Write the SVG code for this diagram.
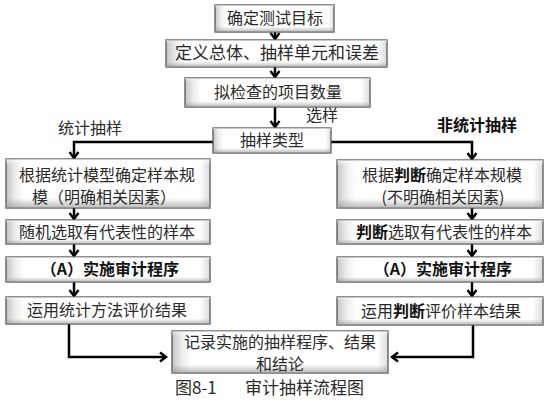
<svg xmlns="http://www.w3.org/2000/svg" width="554" height="402" viewBox="0 0 554 402">
<defs>
<linearGradient id="gh" x1="0" y1="0" x2="1" y2="0">
<stop offset="0" stop-color="#c4c4c4"/>
<stop offset="0.045" stop-color="#ececec"/>
<stop offset="0.09" stop-color="#ffffff"/>
<stop offset="0.95" stop-color="#ffffff"/>
<stop offset="1" stop-color="#dcdcdc"/>
</linearGradient>
<linearGradient id="gv" x1="0" y1="0" x2="0" y2="1">
<stop offset="0" stop-color="#ffffff" stop-opacity="0.6"/>
<stop offset="0.12" stop-color="#ffffff" stop-opacity="0"/>
<stop offset="0.8" stop-color="#9a9a9a" stop-opacity="0"/>
<stop offset="1" stop-color="#9a9a9a" stop-opacity="0.7"/>
</linearGradient>
<marker id="ah" markerUnits="userSpaceOnUse" markerWidth="12" markerHeight="12" viewBox="0 0 12 12" refX="9" refY="6" orient="auto" overflow="visible">
<path d="M3,1.5 L9,6 L3,10.5" fill="none" stroke="#000" stroke-width="2.4"/>
</marker>
</defs>
<style>
.b{stroke:#555;stroke-width:1.3;fill:url(#gh)}
.o{stroke:none;fill:url(#gv)}
text{font-family:"Noto Sans CJK SC","Noto Sans",sans-serif;font-size:16px;fill:#2a2a2a;text-anchor:middle}
.bd{font-weight:bold;fill:#111}
.lb{text-anchor:start}
.c{stroke:#000;stroke-width:2.5;fill:none;marker-end:url(#ah)}
</style>
<g id="connectors">
<path class="c" d="M275,32 V39"/>
<path class="c" d="M275,67 V77"/>
<path class="c" d="M275,107 V127"/>
<path class="c" d="M213,142 H74 V158"/>
<path class="c" d="M331,142 H472 V159"/>
<path class="c" d="M74,208 V219"/>
<path class="c" d="M74,244 V256"/>
<path class="c" d="M74,282 V296"/>
<path class="c" d="M472,208 V219"/>
<path class="c" d="M472,244 V256"/>
<path class="c" d="M472,282 V296"/>
<path class="c" d="M69,324 V357 H166"/>
<path class="c" d="M473,325 V357 H392"/>
</g>
<g id="n1"><rect class="b" x="215" y="5" width="119" height="27"/><rect class="o" x="215" y="5" width="119" height="27"/><text x="275" y="24">确定测试目标</text></g>
<g id="n2"><rect class="b" x="166" y="40" width="221" height="27"/><rect class="o" x="166" y="40" width="221" height="27"/><text x="277" y="59" style="font-size:17px">定义总体、抽样单元和误差</text></g>
<g id="n3"><rect class="b" x="185" y="78" width="185" height="29"/><rect class="o" x="185" y="78" width="185" height="29"/><text x="278" y="98">拟检查的项目数量</text></g>
<g id="lbl1"><text x="322" y="121">选样</text></g>
<g id="n4"><rect class="b" x="213" y="128" width="118" height="25"/><rect class="o" x="213" y="128" width="118" height="25"/><text x="272" y="146">抽样类型</text></g>
<g id="lbl2"><text x="90" y="134">统计抽样</text></g>
<g id="lbl3"><text class="bd" x="477" y="131">非统计抽样</text></g>
<g id="n5"><rect class="b" x="6" y="159" width="204" height="49"/><rect class="o" x="6" y="159" width="204" height="49"/><text x="107" y="181">根据统计模型确定样本规</text><text x="104" y="203">模（明确相关因素）</text></g>
<g id="n6"><rect class="b" x="337" y="160" width="206" height="48"/><rect class="o" x="337" y="160" width="206" height="48"/><text x="442" y="181">根据<tspan class="bd">判断</tspan>确定样本规模</text><text x="443" y="203">(不明确相关因素)</text></g>
<g id="n7"><rect class="b" x="6" y="220" width="204" height="24"/><rect class="o" x="6" y="220" width="204" height="24"/><text x="107" y="238">随机选取有代表性的样本</text></g>
<g id="n8"><rect class="b" x="337" y="220" width="206" height="24"/><rect class="o" x="337" y="220" width="206" height="24"/><text x="444" y="238"><tspan class="bd">判断</tspan>选取有代表性的样本</text></g>
<g id="n9"><rect class="b" x="6" y="257" width="204" height="25"/><rect class="o" x="6" y="257" width="204" height="25"/><text class="bd" x="110" y="275">（A）实施审计程序</text></g>
<g id="n10"><rect class="b" x="337" y="257" width="206" height="25"/><rect class="o" x="337" y="257" width="206" height="25"/><text class="bd" x="443" y="275">（A）实施审计程序</text></g>
<g id="n11"><rect class="b" x="6" y="297" width="204" height="27"/><rect class="o" x="6" y="297" width="204" height="27"/><text x="107" y="316">运用统计方法评价结果</text></g>
<g id="n12"><rect class="b" x="337" y="297" width="206" height="28"/><rect class="o" x="337" y="297" width="206" height="28"/><text x="441" y="317">运用<tspan class="bd">判断</tspan>评价样本结果</text></g>
<g id="n13"><rect class="b" x="172" y="331" width="216" height="42"/><rect class="o" x="172" y="331" width="216" height="42"/><text x="280" y="348">记录实施的抽样程序、结果</text><text x="280" y="370">和结论</text></g>
<g id="caption"><text class="lb" x="175" y="394" style="font-size:17px">图8-1</text><text class="lb" x="245" y="394" style="font-size:17px">审计抽样流程图</text></g>
</svg>
